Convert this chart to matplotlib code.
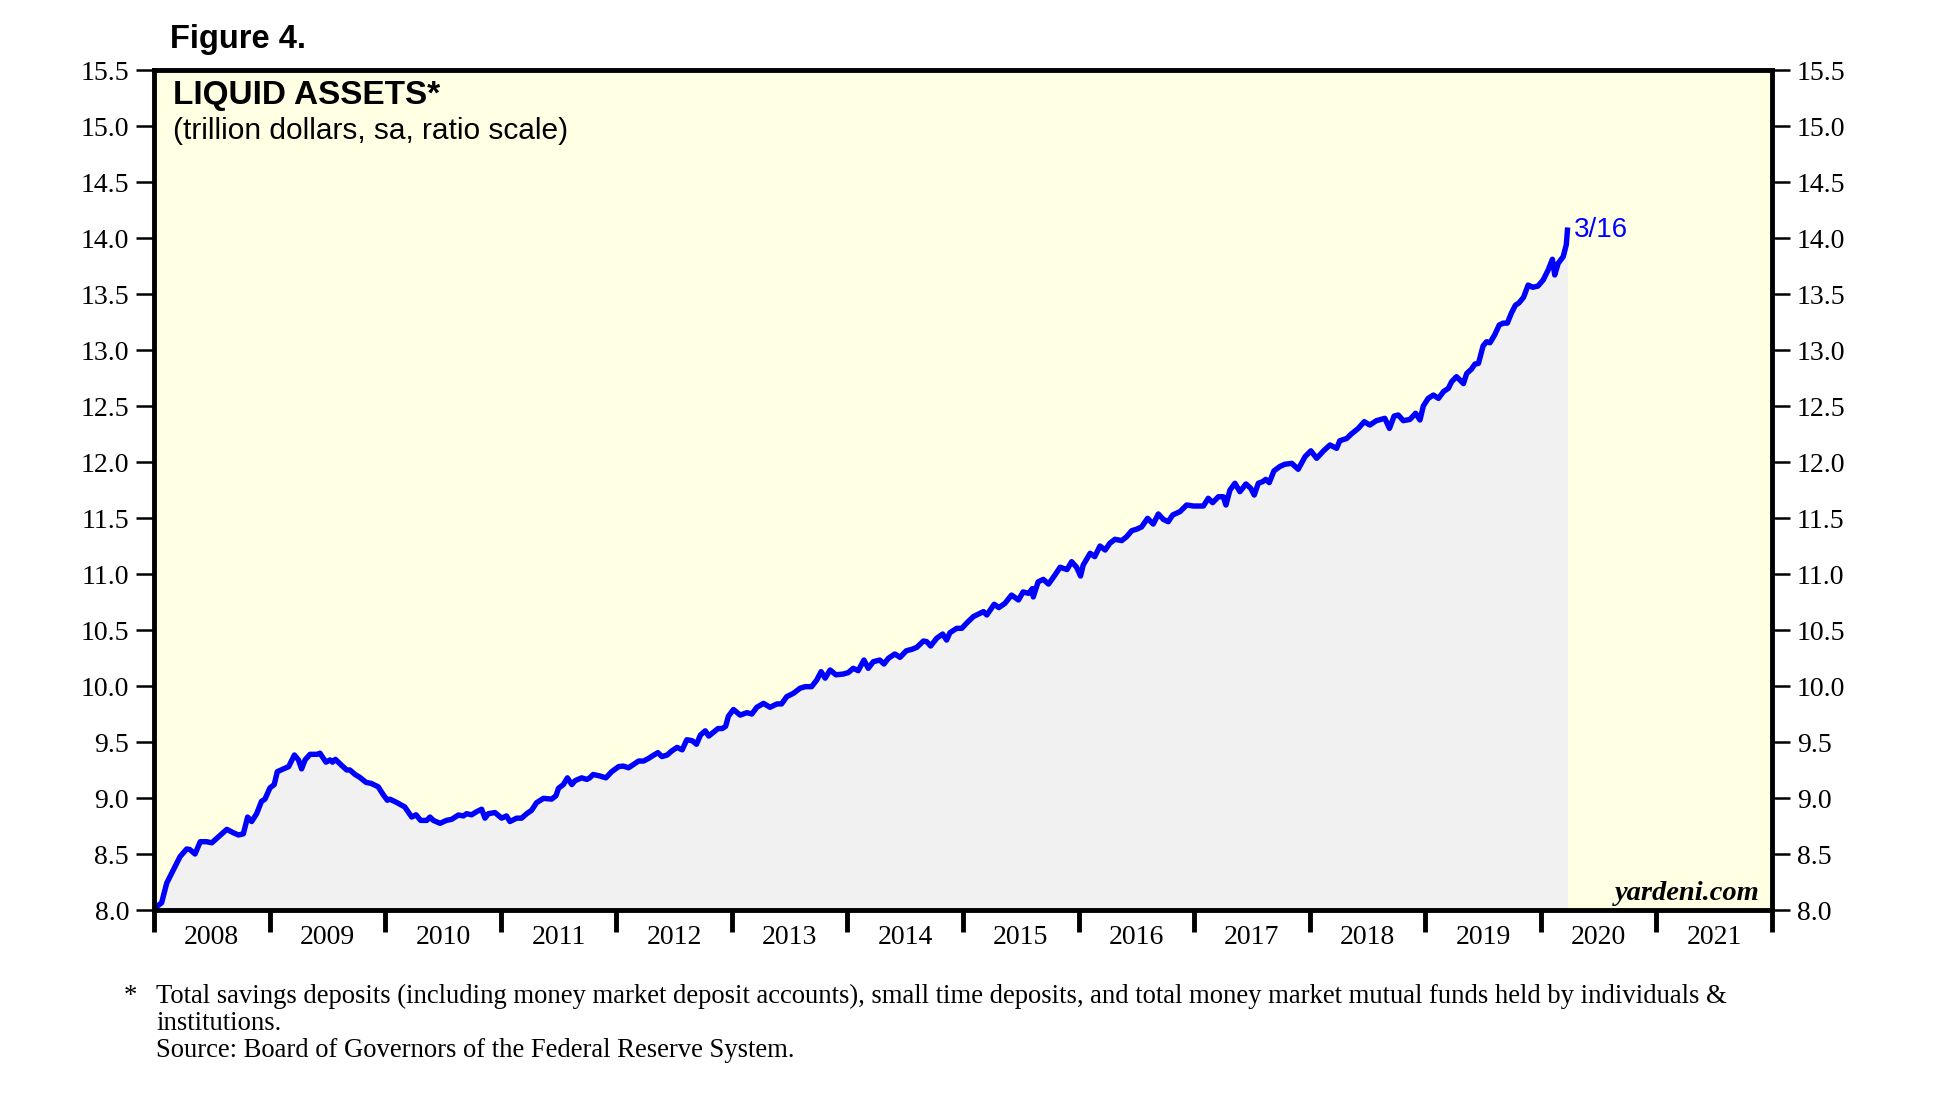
"""
Liquid assets chart (yardeni style), weekly data read off the reference
"""
import matplotlib
matplotlib.use("Agg")
import matplotlib.pyplot as plt
from matplotlib.ticker import FixedLocator, FixedFormatter, NullFormatter

# figure size in pixels
W, H = 1936, 1110
DPI = 100

# decimal years and liquid assets (trillion dollars)
years = [
    2008.023, 2008.066, 2008.110, 2008.167, 2008.225, 2008.283, 2008.310, 2008.355,
    2008.400, 2008.455, 2008.500, 2008.560, 2008.630, 2008.686, 2008.730, 2008.773,
    2008.810, 2008.845, 2008.888, 2008.930, 2008.960, 2009.003, 2009.040, 2009.067,
    2009.120, 2009.165, 2009.215, 2009.250, 2009.277, 2009.307, 2009.350, 2009.410,
    2009.436, 2009.488, 2009.523, 2009.545, 2009.570, 2009.625, 2009.668, 2009.695,
    2009.740, 2009.780, 2009.834, 2009.880, 2009.940, 2009.985, 2010.019, 2010.040,
    2010.100, 2010.170, 2010.230, 2010.267, 2010.307, 2010.360, 2010.388, 2010.417,
    2010.475, 2010.530, 2010.576, 2010.634, 2010.677, 2010.705, 2010.748, 2010.792,
    2010.835, 2010.864, 2010.893, 2010.950, 2011.008, 2011.050, 2011.080, 2011.138,
    2011.180, 2011.225, 2011.267, 2011.310, 2011.370, 2011.440, 2011.478, 2011.500,
    2011.542, 2011.577, 2011.615, 2011.644, 2011.700, 2011.745, 2011.770, 2011.800,
    2011.860, 2011.910, 2011.960, 2012.020, 2012.060, 2012.106, 2012.150, 2012.193,
    2012.236, 2012.280, 2012.316, 2012.360, 2012.395, 2012.440, 2012.480, 2012.526,
    2012.570, 2012.610, 2012.656, 2012.694, 2012.728, 2012.770, 2012.800, 2012.845,
    2012.880, 2012.917, 2012.946, 2012.970, 2013.014, 2013.072, 2013.130, 2013.173,
    2013.216, 2013.274, 2013.330, 2013.390, 2013.430, 2013.475, 2013.533, 2013.590,
    2013.634, 2013.690, 2013.735, 2013.772, 2013.807, 2013.850, 2013.900, 2013.965,
    2014.008, 2014.050, 2014.093, 2014.143, 2014.180, 2014.224, 2014.280, 2014.316,
    2014.354, 2014.410, 2014.455, 2014.510, 2014.556, 2014.600, 2014.658, 2014.686,
    2014.720, 2014.772, 2014.824, 2014.858, 2014.887, 2014.945, 2014.990, 2015.030,
    2015.090, 2015.148, 2015.177, 2015.206, 2015.270, 2015.310, 2015.363, 2015.420,
    2015.480, 2015.520, 2015.568, 2015.600, 2015.608, 2015.650, 2015.695, 2015.740,
    2015.795, 2015.840, 2015.900, 2015.940, 2015.983, 2016.017, 2016.040, 2016.100,
    2016.140, 2016.185, 2016.230, 2016.270, 2016.315, 2016.373, 2016.416, 2016.460,
    2016.500, 2016.545, 2016.597, 2016.646, 2016.690, 2016.733, 2016.776, 2016.814,
    2016.878, 2016.935, 2016.993, 2017.080, 2017.122, 2017.160, 2017.210, 2017.252,
    2017.275, 2017.310, 2017.353, 2017.396, 2017.448, 2017.490, 2017.520, 2017.555,
    2017.592, 2017.620, 2017.650, 2017.690, 2017.742, 2017.785, 2017.845, 2017.900,
    2017.960, 2018.010, 2018.060, 2018.120, 2018.175, 2018.233, 2018.260, 2018.320,
    2018.360, 2018.420, 2018.472, 2018.520, 2018.577, 2018.650, 2018.690, 2018.730,
    2018.766, 2018.810, 2018.867, 2018.916, 2018.954, 2018.983, 2019.025, 2019.070,
    2019.114, 2019.157, 2019.200, 2019.228, 2019.270, 2019.300, 2019.330, 2019.358,
    2019.400, 2019.430, 2019.460, 2019.500, 2019.530, 2019.560, 2019.600, 2019.640,
    2019.675, 2019.710, 2019.745, 2019.780, 2019.810, 2019.850, 2019.890, 2019.930,
    2019.975, 2020.020, 2020.063, 2020.100, 2020.120, 2020.150, 2020.193, 2020.220,
    2020.230,
]
liquid = [
    8.030, 8.065, 8.240, 8.357, 8.476, 8.545, 8.540, 8.500,
    8.610, 8.610, 8.600, 8.655, 8.720, 8.690, 8.670, 8.680,
    8.830, 8.790, 8.860, 8.970, 8.990, 9.090, 9.120, 9.235,
    9.260, 9.280, 9.384, 9.340, 9.260, 9.340, 9.390, 9.390,
    9.400, 9.320, 9.340, 9.320, 9.345, 9.290, 9.250, 9.250,
    9.210, 9.185, 9.140, 9.130, 9.100, 9.027, 8.980, 8.990,
    8.960, 8.920, 8.830, 8.850, 8.800, 8.800, 8.830, 8.800,
    8.774, 8.800, 8.810, 8.848, 8.840, 8.860, 8.850, 8.878,
    8.900, 8.820, 8.860, 8.870, 8.820, 8.840, 8.790, 8.820,
    8.820, 8.860, 8.890, 8.958, 8.997, 8.990, 9.020, 9.087,
    9.120, 9.180, 9.120, 9.155, 9.180, 9.166, 9.180, 9.210,
    9.196, 9.180, 9.235, 9.280, 9.285, 9.270, 9.300, 9.330,
    9.330, 9.354, 9.378, 9.405, 9.370, 9.384, 9.420, 9.452,
    9.430, 9.520, 9.512, 9.480, 9.562, 9.600, 9.553, 9.590,
    9.620, 9.620, 9.640, 9.730, 9.790, 9.740, 9.762, 9.750,
    9.810, 9.845, 9.810, 9.840, 9.840, 9.905, 9.935, 9.980,
    9.994, 9.994, 10.054, 10.128, 10.070, 10.143, 10.100, 10.107,
    10.120, 10.158, 10.137, 10.232, 10.158, 10.217, 10.232, 10.196,
    10.247, 10.286, 10.256, 10.315, 10.327, 10.345, 10.402, 10.396,
    10.357, 10.426, 10.464, 10.410, 10.476, 10.515, 10.515, 10.560,
    10.620, 10.650, 10.664, 10.634, 10.730, 10.700, 10.738, 10.812,
    10.768, 10.840, 10.827, 10.870, 10.795, 10.930, 10.952, 10.910,
    10.990, 11.060, 11.040, 11.110, 11.060, 10.982, 11.080, 11.185,
    11.155, 11.250, 11.214, 11.274, 11.310, 11.298, 11.333, 11.387,
    11.399, 11.420, 11.497, 11.446, 11.536, 11.488, 11.467, 11.527,
    11.557, 11.616, 11.607, 11.607, 11.676, 11.637, 11.690, 11.690,
    11.616, 11.750, 11.810, 11.735, 11.804, 11.765, 11.705, 11.810,
    11.824, 11.845, 11.816, 11.920, 11.960, 11.980, 11.988, 11.935,
    12.048, 12.100, 12.033, 12.100, 12.152, 12.122, 12.190, 12.210,
    12.250, 12.300, 12.360, 12.330, 12.369, 12.390, 12.300, 12.410,
    12.420, 12.369, 12.380, 12.435, 12.375, 12.500, 12.568, 12.598,
    12.568, 12.628, 12.658, 12.717, 12.762, 12.732, 12.700, 12.790,
    12.830, 12.875, 12.880, 13.036, 13.074, 13.065, 13.134, 13.223,
    13.240, 13.240, 13.330, 13.400, 13.420, 13.470, 13.580, 13.560,
    13.571, 13.625, 13.714, 13.810, 13.670, 13.774, 13.833, 13.940,
    14.070,
]

y_ticks = [8.0, 8.5, 9.0, 9.5, 10.0, 10.5, 11.0, 11.5, 12.0, 12.5, 13.0, 13.5, 14.0, 14.5, 15.0, 15.5]
year_edges = list(range(2008, 2023))
year_labels = [str(y) for y in range(2008, 2022)]
last_label = "3/16"

footnote = [
    "Total savings deposits (including money market deposit accounts), small time deposits, and total money market mutual funds held by individuals &",
    "institutions.",
    "Source: Board of Governors of the Federal Reserve System.",
]

SERIF = ["Liberation Serif", "DejaVu Serif"]
SANS = ["Liberation Sans", "DejaVu Sans"]
BLUE = "#0000ff"


def fx(px):
    return px / W


def fy(py):
    return 1 - py / H


fig = plt.figure(figsize=(W / DPI, H / DPI), dpi=DPI, facecolor="white")
ax = fig.add_axes([fx(154), fy(910), (1772 - 154) / W, (910 - 70) / H])
ax.set_facecolor("#ffffe3")

# area + line
ax.fill_between(years, liquid, 8.0, color="#f1f1f1", lw=0, zorder=1)
ax.plot(years, liquid, color=BLUE, lw=3.9, solid_joinstyle="round", zorder=3)
ax.annotate(last_label, xy=(years[-1], liquid[-1]), xytext=(5, 0), textcoords="offset points",
            va="center", ha="left", color=BLUE, fontsize=20, family=SANS)

ax.set_xlim(2008, 2022)
ax.set_ylim(8.0, 15.5)

for s in ax.spines.values():
    s.set_linewidth(3.5)
    s.set_color("black")
    s.set_zorder(5)

# y axis both sides
ax.yaxis.set_major_locator(FixedLocator(y_ticks))
ax.yaxis.set_major_formatter(FixedFormatter([f"{v:.1f}" for v in y_ticks]))
ax.tick_params(axis="y", which="major", direction="out", length=13, width=1.8,
               left=True, right=True, labelleft=True, labelright=True, pad=5,
               labelsize=20)
for lab in ax.get_yticklabels():
    lab.set_family(SERIF)

# x axis: year boundaries as ticks, labels centred in each year
ax.xaxis.set_major_locator(FixedLocator(year_edges))
ax.xaxis.set_major_formatter(NullFormatter())
ax.xaxis.set_minor_locator(FixedLocator([y + 0.5 for y in range(2008, 2022)]))
ax.xaxis.set_minor_formatter(FixedFormatter(year_labels))
ax.tick_params(axis="x", which="major", direction="out", length=16, width=3.5)
ax.tick_params(axis="x", which="minor", length=0, pad=11, labelsize=20)
for lab in ax.get_xticklabels(minor=True):
    lab.set_family(SERIF)

# titles inside the panel
fig.text(fx(170), fy(48), "Figure 4.", fontsize=23.5, fontweight="bold", family=SANS, va="baseline")
fig.text(fx(173), fy(104), "LIQUID ASSETS*", fontsize=24, fontweight="bold", family=SANS, va="baseline")
fig.text(fx(173), fy(139), "(trillion dollars, sa, ratio scale)", fontsize=21.5, family=SANS, va="baseline")
fig.text(fx(1760), fy(900), "yardeni.com", fontsize=20.5, fontweight="bold", style="italic",
         family=SERIF, ha="right", va="baseline")

# footnote
fig.text(fx(124), fy(1003), "*", fontsize=19.2, family=SERIF, va="baseline")
for i, line in enumerate(footnote):
    fig.text(fx(156), fy(1003 + 27 * i), line, fontsize=19.2, family=SERIF, va="baseline")

fig.savefig("out.png", dpi=DPI)
